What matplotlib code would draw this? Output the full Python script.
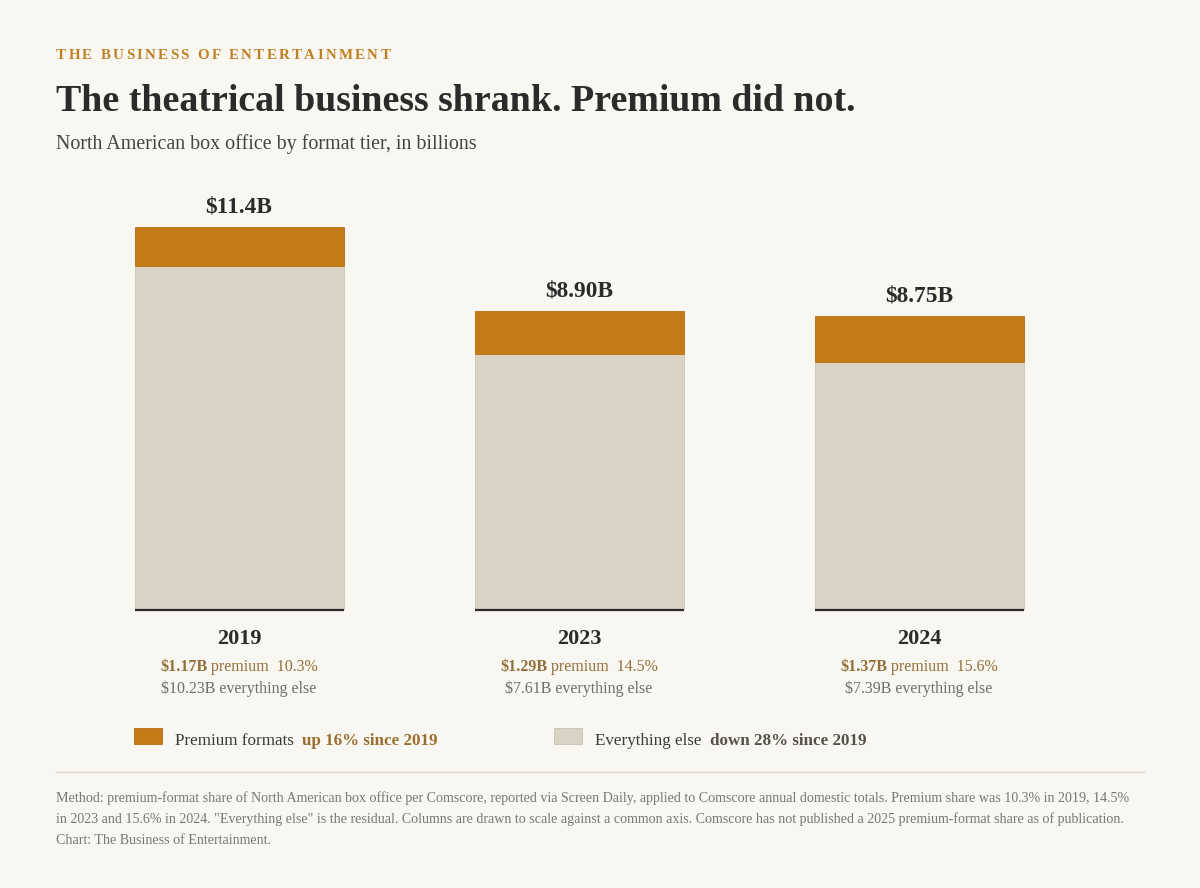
import matplotlib
matplotlib.use("Agg")
import matplotlib.pyplot as plt
from matplotlib.patches import Rectangle

# data (billions)
years = ["2019", "2023", "2024"]
premium = [1.17, 1.29, 1.37]
other = [10.23, 7.61, 7.39]
totals = ["$11.4B", "$8.90B", "$8.75B"]
shares = ["10.3%", "14.5%", "15.6%"]

BG = "#F9F7F2"
ORANGE = "#C47A17"
BEIGE = "#D9D3C4"
DARK = "#2B2B2B"
BROWN = "#93703A"
GREY = "#6E6E6E"
FONT = "Liberation Serif"

W, H = 1200, 888
fig = plt.figure(figsize=(12, 8.88), dpi=100, facecolor=BG)
plt.rcParams["font.family"] = FONT


def fy(y):
    return 1 - y / H


def runs(x, y, parts, ha="left"):
    # draw a row of differently styled text pieces, left or centered
    r = fig.canvas.get_renderer()
    objs = []
    total = 0
    for txt, size, weight, color in parts:
        t = fig.text(0, 0, txt, fontsize=size, fontweight=weight, color=color,
                     va="baseline", ha="left", family=FONT)
        w = t.get_window_extent(r).width
        objs.append((t, w))
        total += w
    if ha == "center":
        x = x - total / 2
    cx = x
    for t, w in objs:
        t.set_position((cx / W, fy(y)))
        cx += w
    return cx


def spaced(x, y, text, size, weight, color, track):
    r = fig.canvas.get_renderer()
    cx = x
    for ch in text:
        t = fig.text(cx / W, fy(y), ch, fontsize=size, fontweight=weight,
                     color=color, va="baseline", ha="left", family=FONT)
        cx += t.get_window_extent(r).width + track


# header
spaced(56, 59, "THE BUSINESS OF ENTERTAINMENT", 10.8, "bold", "#C07F22", 2.3)
fig.text(56 / W, fy(111), "The theatrical business shrank. Premium did not.",
         fontsize=27.3, fontweight="bold", color=DARK, va="baseline")
fig.text(56 / W, fy(149), "North American box office by format tier, in billions",
         fontsize=14.4, color="#444444", va="baseline")

# chart axes: baseline at y=610px, 33.6 px per billion
ax = fig.add_axes([69 / W, (H - 610) / H, 1020 / W, 12 * 33.6 / H])
ax.set_facecolor("none")
ax.set_xlim(-0.5, 2.5)
ax.set_ylim(0, 12)
ax.axis("off")

x = list(range(len(years)))
bw = 209 / 340
ax.bar(x, other, width=bw, color=BEIGE, edgecolor="#CBC4B3", linewidth=0.6)
ax.bar(x, premium, width=bw, bottom=other, color=ORANGE, edgecolor="#B36D12",
       linewidth=0.6)
ax.hlines([0] * 3, [i - bw / 2 for i in x], [i + bw / 2 for i in x],
          color=DARK, linewidth=1.6, clip_on=False, zorder=3)
for i in x:
    ax.annotate(totals[i], (i, other[i] + premium[i]), xytext=(0, 10.5),
                textcoords="offset points", ha="center", va="baseline",
                fontsize=16.8, fontweight="bold", color=DARK)

# labels below bars
for i in x:
    cx = 239 + 340 * i
    fig.text(cx / W, fy(644), years[i], fontsize=16, fontweight="bold",
             color=DARK, ha="center", va="baseline")
    runs(cx, 671, [("$%.2fB" % premium[i], 11.55, "bold", BROWN),
                   (" premium  " + shares[i], 11.55, "normal", BROWN)],
         ha="center")
    runs(cx, 693, [("$%.2fB everything else" % other[i], 11.5, "normal", GREY)],
         ha="center")

# legend
fig.patches.append(Rectangle((134 / W, fy(744)), 28 / W, 16 / H,
                             transform=fig.transFigure, facecolor=ORANGE,
                             edgecolor="#B36D12", linewidth=0.6))
runs(175, 745, [("Premium formats  ", 12.25, "normal", "#3A3A3A"),
                ("up 16% since 2019", 12.25, "bold", "#9A6E2E")])
fig.patches.append(Rectangle((554 / W, fy(744)), 28 / W, 16 / H,
                             transform=fig.transFigure, facecolor=BEIGE,
                             edgecolor="#C9C2B1", linewidth=0.6))
runs(595, 745, [("Everything else  ", 12.25, "normal", "#3A3A3A"),
                ("down 28% since 2019", 12.25, "bold", "#555049")])

# rule and footnote
fig.add_artist(plt.Line2D([56 / W, 1144 / W], [fy(772), fy(772)],
                          color="#DDD9D0", linewidth=1))
notes = [
    "Method: premium-format share of North American box office per Comscore, reported via Screen Daily, applied to Comscore annual domestic totals. Premium share was 10.3% in 2019, 14.5%",
    "in 2023 and 15.6% in 2024. \"Everything else\" is the residual. Columns are drawn to scale against a common axis. Comscore has not published a 2025 premium-format share as of publication.",
    "Chart: The Business of Entertainment.",
]
for k, line in enumerate(notes):
    fig.text(56 / W, fy(802 + 21 * k), line, fontsize=10.1, color="#777777",
             va="baseline")

fig.savefig("out.png", dpi=100, facecolor=BG)
